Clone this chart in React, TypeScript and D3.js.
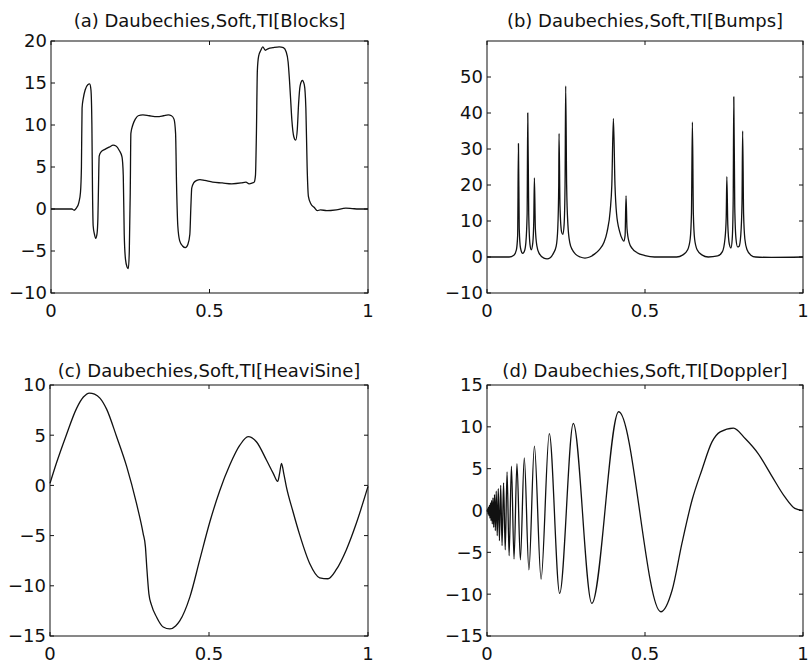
import React from 'react';
import * as d3 from 'd3';

// values
const blocksX = [0, 0.066, 0.073, 0.08, 0.088, 0.093, 0.096, 0.098, 0.102, 0.108, 0.116, 0.122, 0.126, 0.129, 0.131, 0.133, 0.137, 0.141, 0.145, 0.148, 0.15, 0.152, 0.158, 0.17, 0.185, 0.196, 0.205, 0.215, 0.224, 0.228, 0.231, 0.235, 0.24, 0.244, 0.247, 0.25, 0.252, 0.258, 0.266, 0.275, 0.29, 0.31, 0.335, 0.355, 0.37, 0.38, 0.388, 0.393, 0.396, 0.4, 0.406, 0.415, 0.424, 0.432, 0.438, 0.441, 0.444, 0.45, 0.46, 0.47, 0.485, 0.51, 0.54, 0.57, 0.6, 0.615, 0.625, 0.635, 0.641, 0.645, 0.648, 0.651, 0.655, 0.662, 0.668, 0.676, 0.686, 0.7, 0.72, 0.733, 0.742, 0.748, 0.752, 0.756, 0.76, 0.766, 0.772, 0.777, 0.781, 0.786, 0.793, 0.799, 0.804, 0.808, 0.812, 0.82, 0.83, 0.84, 0.85, 0.87, 0.9, 0.93, 0.95, 0.97, 1];
const blocksY = [0, 0, -0.15, 0.1, 0.8, 2, 5, 12, 13.2, 14.2, 14.8, 14.9, 14.2, 10, 2, -2, -3, -3.5, -3, -1, 3, 6.3, 6.8, 7.1, 7.4, 7.6, 7.5, 7.0, 6.2, 4, -3, -6, -6.9, -7.1, -5, 2, 9, 10, 10.7, 11.1, 11.2, 11.1, 11.0, 11.1, 11.2, 11.1, 10.7, 9, 3, -2, -3.8, -4.4, -4.6, -4.2, -3, 0, 2.5, 3.1, 3.4, 3.5, 3.4, 3.2, 3.1, 3.0, 3.1, 3.2, 3.0, 3.1, 3.2, 4, 9, 16.5, 18.2, 18.9, 19.3, 18.9, 19.1, 19.2, 19.3, 19.2, 18.7, 17.5, 15.5, 13, 10.5, 8.6, 8.2, 9.5, 12.5, 14.7, 15.3, 14.8, 12, 5, 1.5, 0.6, 0.2, -0.2, -0.1, -0.2, -0.1, 0.1, 0.05, 0, 0];

const bumpsX = [0, 0.07, 0.085, 0.093, 0.097, 0.0995, 0.102, 0.106, 0.113, 0.118, 0.123, 0.127, 0.129, 0.132, 0.136, 0.14, 0.145, 0.148, 0.15, 0.153, 0.158, 0.165, 0.18, 0.19, 0.2, 0.21, 0.219, 0.224, 0.227, 0.228, 0.231, 0.236, 0.24, 0.244, 0.247, 0.249, 0.252, 0.256, 0.262, 0.27, 0.28, 0.295, 0.31, 0.325, 0.34, 0.355, 0.37, 0.38, 0.39, 0.395, 0.4, 0.405, 0.41, 0.42, 0.428, 0.433, 0.437, 0.44, 0.443, 0.45, 0.46, 0.475, 0.5, 0.53, 0.6, 0.62, 0.635, 0.643, 0.647, 0.65, 0.653, 0.657, 0.665, 0.68, 0.7, 0.73, 0.745, 0.753, 0.757, 0.759, 0.762, 0.767, 0.772, 0.776, 0.779, 0.781, 0.784, 0.788, 0.793, 0.798, 0.803, 0.807, 0.809, 0.812, 0.816, 0.823, 0.835, 0.85, 0.9, 1];
const bumpsY = [0, 0, 0.5, 2, 6, 31.5, 8, 2.5, 1, 1.5, 4, 12, 40, 12, 3.5, 2, 4, 10, 22, 8, 3, 1, -0.3, -0.5, -0.2, 1, 3, 8, 20, 34.3, 14, 7, 6.3, 9, 20, 47.5, 20, 9, 4, 2, 0.8, 0, -0.3, 0, 0.8, 2, 4, 7, 13, 20, 38.5, 20, 12, 7, 5, 4.4, 6, 17, 8, 4, 2.3, 1.2, 0.4, 0, 0, 0.6, 2, 5, 12, 37.5, 12, 5, 2, 0.6, 0, 0.3, 1.5, 5, 11, 22.3, 9, 3.5, 2.5, 5, 15, 44.5, 14, 5, 2.8, 3, 6, 15, 35, 12, 5, 2, 0.5, 0, -0.1, 0];

const heaviX = [0, 0.02, 0.05, 0.084, 0.105, 0.124, 0.14, 0.157, 0.178, 0.209, 0.241, 0.272, 0.293, 0.3, 0.304, 0.311, 0.319, 0.335, 0.356, 0.377, 0.395, 0.408, 0.44, 0.471, 0.503, 0.534, 0.565, 0.597, 0.623, 0.649, 0.681, 0.702, 0.716, 0.722, 0.728, 0.735, 0.743, 0.764, 0.785, 0.817, 0.848, 0.874, 0.9, 0.932, 0.963, 1];
const heaviY = [0.2, 2.2, 4.9, 7.7, 8.8, 9.2, 9.1, 8.7, 7.6, 4.9, 1.9, -1.8, -4.8, -6.1, -8, -10.8, -11.9, -13.1, -14.1, -14.3, -14.0, -13.5, -11.1, -7.4, -3.6, -0.5, 2.0, 4.0, 4.85, 4.35, 2.5, 1.2, 0.4, 1.2, 2.2, 1.2, -0.1, -2.6, -4.9, -7.8, -9.2, -9.3, -8.4, -6.4, -3.8, -0.1];

// doppler: its turning points left to right, then the last hump and tail
const dopplerX = [0, 0.0006, 0.0019, 0.0032, 0.0045, 0.006, 0.0075, 0.0092, 0.0109, 0.0127, 0.0146, 0.0167, 0.0189, 0.0212, 0.0237, 0.0264, 0.0292, 0.0324, 0.0357, 0.0394, 0.0433, 0.0477, 0.0524, 0.0577, 0.0635, 0.07, 0.0773, 0.0855, 0.0948, 0.1056, 0.118, 0.1326, 0.15, 0.1711, 0.1971, 0.23, 0.2731, 0.3318, 0.4167, 0.55, 0.586, 0.617, 0.649, 0.68, 0.712, 0.738, 0.78, 0.817, 0.858, 0.9, 0.942, 0.974, 1];
const dopplerY = [0, -0.1, 0.2, -0.4, 0.4, -0.6, 0.6, -0.9, 0.9, -1.2, 1.2, -1.6, 1.5, -2.0, 1.9, -2.4, 2.3, -3.0, 2.6, -3.6, 3.0, -4.2, 3.3, -4.7, 4.6, -5.4, 5.3, -5.8, 5.6, -5.9, 6.3, -7.1, 7.7, -8.2, 9.2, -9.9, 10.4, -11.1, 11.8, -12.1, -9.5, -3.9, 1.25, 4.85, 8.2, 9.4, 9.85, 8.6, 6.8, 4.2, 1.65, 0.26, 0];

const xTicks = [0, 0.5, 1];
const blocksTicks = [-10, -5, 0, 5, 10, 15, 20];
const bumpsTicks = [-10, 0, 10, 20, 30, 40, 50];
const heaviTicks = [-15, -10, -5, 0, 5, 10];
const dopplerTicks = [-15, -10, -5, 0, 5, 10, 15];

const titles = [
  '(a) Daubechies,Soft,TI[Blocks]',
  '(b) Daubechies,Soft,TI[Bumps]',
  '(c) Daubechies,Soft,TI[HeaviSine]',
  '(d) Daubechies,Soft,TI[Doppler]'
];

const panels = [
  { xs: blocksX, ys: blocksY, yDomain: [-10, 20], yTicks: blocksTicks, box: [51, 41, 368, 293], titleY: 27 },
  { xs: bumpsX, ys: bumpsY, yDomain: [-10, 60], yTicks: bumpsTicks, box: [487, 41, 803, 293], titleY: 27 },
  { xs: heaviX, ys: heaviY, yDomain: [-15, 10], yTicks: heaviTicks, box: [50, 385, 368, 636], titleY: 377 },
  { xs: dopplerX, ys: dopplerY, yDomain: [-15, 15], yTicks: dopplerTicks, box: [487, 385, 803, 636], titleY: 377 }
];

const fmt = d3.format('~g');
const font = 'DejaVu Sans';
const TICK = 4;

function Panel({ p, title }: { p: any; title: string }) {
  const [x0, y0, x1, y1] = p.box;
  const x = d3.scaleLinear().domain([0, 1]).range([x0, x1]);
  const y = d3.scaleLinear().domain(p.yDomain).range([y1, y0]);
  const pts = p.xs.map((v: number, i: number) => [v, p.ys[i]]);
  const line = d3.line<number[]>()
    .x(d => x(d[0]))
    .y(d => y(d[1]))
    .curve(d3.curveMonotoneX);

  return (
    <g>
      <text x={(x0 + x1) / 2} y={p.titleY} textAnchor="middle" fontSize={18} fontFamily={font} fill="#111">{title}</text>
      <path d={line(pts) || ''} fill="none" stroke="#111" strokeWidth={1.3} strokeLinejoin="round" />
      <rect x={x0} y={y0} width={x1 - x0} height={y1 - y0} fill="none" stroke="#111" strokeWidth={1} />
      {xTicks.map(t => (
        <g key={'x' + t}>
          <line x1={x(t)} x2={x(t)} y1={y1} y2={y1 - TICK} stroke="#111" />
          <line x1={x(t)} x2={x(t)} y1={y0} y2={y0 + TICK} stroke="#111" />
          <text x={x(t)} y={y1 + 24} textAnchor="middle" fontSize={18} fontFamily={font} fill="#111">{fmt(t)}</text>
        </g>
      ))}
      {p.yTicks.map((t: number) => (
        <g key={'y' + t}>
          <line x1={x0} x2={x0 + TICK} y1={y(t)} y2={y(t)} stroke="#111" />
          <line x1={x1} x2={x1 - TICK} y1={y(t)} y2={y(t)} stroke="#111" />
          <text x={x0 - 4} y={y(t)} dy="0.36em" textAnchor="end" fontSize={18} fontFamily={font} fill="#111">{fmt(t)}</text>
        </g>
      ))}
    </g>
  );
}

export default function App() {
  return (
    <svg width={809} height={665} style={{ position: 'absolute', left: 0, top: 0, background: '#fff' }}>
      <rect width={809} height={665} fill="#fff" />
      {panels.map((p, i) => <Panel key={i} p={p} title={titles[i]} />)}
    </svg>
  );
}
